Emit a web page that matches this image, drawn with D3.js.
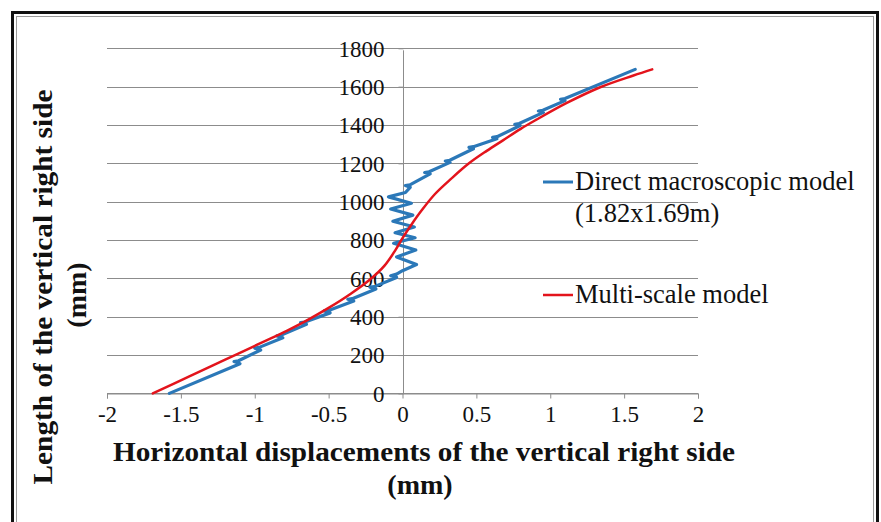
<!DOCTYPE html>
<html>
<head>
<meta charset="utf-8">
<script src="https://cdn.jsdelivr.net/npm/d3@7"></script>
<style>
  html, body { margin: 0; padding: 0; background: #fff; }
  svg { display: block; }
  svg text { font-family: 'Liberation Serif', 'Times New Roman', Times, serif; }
</style>
</head>
<body>
<svg id="chart" width="881" height="522"></svg>
<script>
// ---- Data ----
const xTicks = [-2, -1.5, -1, -0.5, 0, 0.5, 1, 1.5, 2];
const xTickLabels = ["-2", "-1.5", "-1", "-0.5", "0", "0.5", "1", "1.5", "2"];
const yTicks = [0, 200, 400, 600, 800, 1000, 1200, 1400, 1600, 1800];
const yTickLabels = ["0", "200", "400", "600", "800", "1000", "1200", "1400", "1600", "1800"];

const seriesNames = ["Direct macroscopic model", "(1.82x1.69m)", "Multi-scale model"];

// Direct macroscopic model (blue): horizontal displacement (mm) vs length (mm)
const directX = [
  -1.578,
  -1.10, -1.14, -1.11,
  -0.96, -1.00, -0.97,
  -0.81, -0.85, -0.82,
  -0.65, -0.69, -0.66,
  -0.49, -0.53, -0.50,
  -0.33, -0.37, -0.34,
  -0.18, -0.22, -0.19,
  -0.04, -0.08, -0.04,
   0.00,
   0.095, -0.04, 0.09, -0.06, 0.085, -0.05, 0.08, -0.065, 0.07, -0.08, 0.06, -0.095,
   0.02,
   0.052, 0.02, 0.05,
   0.187, 0.15, 0.18,
   0.322, 0.29, 0.32,
   0.48, 0.45, 0.48,
   0.639, 0.61, 0.64,
   0.796, 0.76, 0.79,
   0.954, 0.92, 0.95,
   1.10, 1.07, 1.10,
   1.575
];
const directY = [
  0,
  155, 166, 170,
  226, 236, 240,
  290, 300, 304,
  360, 369, 372,
  420, 430, 433,
  482, 491, 494,
  545, 554, 557,
  605, 614, 622,
  640,
  672, 712, 748, 783, 812, 838, 868, 898, 930, 962, 992, 1025,
  1048,
  1075, 1084, 1088,
  1145, 1152, 1156,
  1205, 1212, 1216,
  1276, 1283, 1287,
  1328, 1335, 1339,
  1397, 1404, 1408,
  1466, 1473, 1477,
  1527, 1534, 1538,
  1690
];

// Multi-scale model (red)
const multiX = [-1.69, -1.45, -1.2, -0.95, -0.78, -0.65, -0.5, -0.35, -0.22, -0.12, -0.05, 0, 0.06, 0.13, 0.22, 0.33, 0.45, 0.57, 0.68, 0.8, 0.9, 1.112, 1.338, 1.563, 1.69];
const multiY = [0, 86, 176, 266, 328, 380, 446, 520, 594, 668, 745, 810, 880, 955, 1040, 1120, 1200, 1265, 1320, 1380, 1425, 1515, 1597, 1658, 1690];

// ---- Layout ----
const svg = d3.select("#chart");
const SERIF = "'Liberation Serif', 'Times New Roman', Times, serif";

const x = d3.scaleLinear().domain([-2, 2]).range([107, 698]);
const y = d3.scaleLinear().domain([0, 1800]).range([393.4, 48.3]);

// Frame (double border)
svg.append("rect").attr("x", 12.5).attr("y", 12.5).attr("width", 865).attr("height", 530)
  .attr("fill", "#fff").attr("stroke", "#111").attr("stroke-width", 3);
svg.append("rect").attr("x", 16.5).attr("y", 16.5).attr("width", 857).attr("height", 530)
  .attr("fill", "none").attr("stroke", "#9a9a9a").attr("stroke-width", 1);

// Horizontal gridlines
svg.append("g").selectAll("line").data(yTicks).join("line")
  .attr("x1", x(-2)).attr("x2", x(2))
  .attr("y1", d => Math.round(y(d)) + 0.5).attr("y2", d => Math.round(y(d)) + 0.5)
  .attr("stroke", "#8c8c8c").attr("stroke-width", 1);

// X axis (at y=0) with ticks below
const xAxis = d3.axisBottom(x).tickValues(xTicks).tickSize(5)
  .tickFormat((d, i) => xTickLabels[i]);
const gx = svg.append("g").attr("transform", `translate(0,${Math.round(y(0)) + 0.5})`).call(xAxis);
gx.attr("font-family", SERIF).attr("font-size", 23);
gx.select(".domain").attr("stroke", "#8c8c8c");
gx.selectAll(".tick line").attr("stroke", "#8c8c8c");
gx.selectAll(".tick text").attr("fill", "#111")
  .attr("font-family", SERIF).style("font-family", SERIF).style("font-size", "23px")
  .attr("dy", "0.95em").attr("y", 7);

// Y axis (at x=0), labels to the left
const yAxis = d3.axisLeft(y).tickValues(yTicks).tickSize(5)
  .tickFormat((d, i) => yTickLabels[i]).tickPadding(14);
const gy = svg.append("g").attr("transform", `translate(${Math.round(x(0)) + 0.5},0)`).call(yAxis);
gy.attr("font-family", SERIF).attr("font-size", 23);
gy.select(".domain").attr("stroke", "#8c8c8c").attr("d", `M0,${y(1800) + 2}V${y(0)}`);
gy.selectAll(".tick line").attr("stroke", "#8c8c8c");
gy.selectAll(".tick text").attr("fill", "#111")
  .attr("font-family", SERIF).style("font-family", SERIF).style("font-size", "23px")
  .attr("dy", "0.34em");

// Lines
const line = d3.line().x(d => x(d[0])).y(d => y(d[1]));
const directPts = directX.map((v, i) => [v, directY[i]]);
const multiPts = multiX.map((v, i) => [v, multiY[i]]);
const lineSmooth = d3.line().x(d => x(d[0])).y(d => y(d[1])).curve(d3.curveCatmullRom.alpha(0.5));

svg.append("path").datum(directPts).attr("d", line)
  .attr("fill", "none").attr("stroke", "#2b78b8").attr("stroke-width", 3.2)
  .attr("stroke-linejoin", "round").attr("stroke-linecap", "round");
svg.append("path").datum(multiPts).attr("d", lineSmooth)
  .attr("fill", "none").attr("stroke", "#e3141c").attr("stroke-width", 2.5)
  .attr("stroke-linejoin", "round").attr("stroke-linecap", "round");

// Legend
const lg = svg.append("g").style("font-family", SERIF);
lg.append("line").attr("x1", 543).attr("x2", 573).attr("y1", 182).attr("y2", 182)
  .attr("stroke", "#2b78b8").attr("stroke-width", 3);
lg.append("text").attr("x", 575).attr("y", 190).style("font-size", "26.5px").attr("fill", "#111")
  .text(seriesNames[0]);
lg.append("text").attr("x", 575).attr("y", 222).style("font-size", "26.5px").attr("fill", "#111")
  .text(seriesNames[1]);
lg.append("line").attr("x1", 543).attr("x2", 573).attr("y1", 295).attr("y2", 295)
  .attr("stroke", "#e3141c").attr("stroke-width", 2.5);
lg.append("text").attr("x", 575).attr("y", 303).style("font-size", "26.5px").attr("fill", "#111")
  .text(seriesNames[2]);

// Axis titles
const tg = svg.append("g").style("font-family", SERIF).style("font-weight", "bold").style("font-size", "28px");
tg.append("text").attr("x", 424).attr("y", 461).attr("text-anchor", "middle").attr("fill", "#111")
  .attr("textLength", 622).attr("lengthAdjust", "spacingAndGlyphs")
  .text("Horizontal displacements of the vertical right side");
tg.append("text").attr("x", 420).attr("y", 494).attr("text-anchor", "middle").attr("fill", "#111")
  .text("(mm)");
tg.append("text").attr("transform", "translate(52,287) rotate(-90)").attr("text-anchor", "middle")
  .attr("fill", "#111")
  .attr("textLength", 395).attr("lengthAdjust", "spacingAndGlyphs")
  .text("Length of the vertical right side");
tg.append("text").attr("transform", "translate(86,295) rotate(-90)").attr("text-anchor", "middle")
  .attr("fill", "#111")
  .text("(mm)");
</script>
</body>
</html>
